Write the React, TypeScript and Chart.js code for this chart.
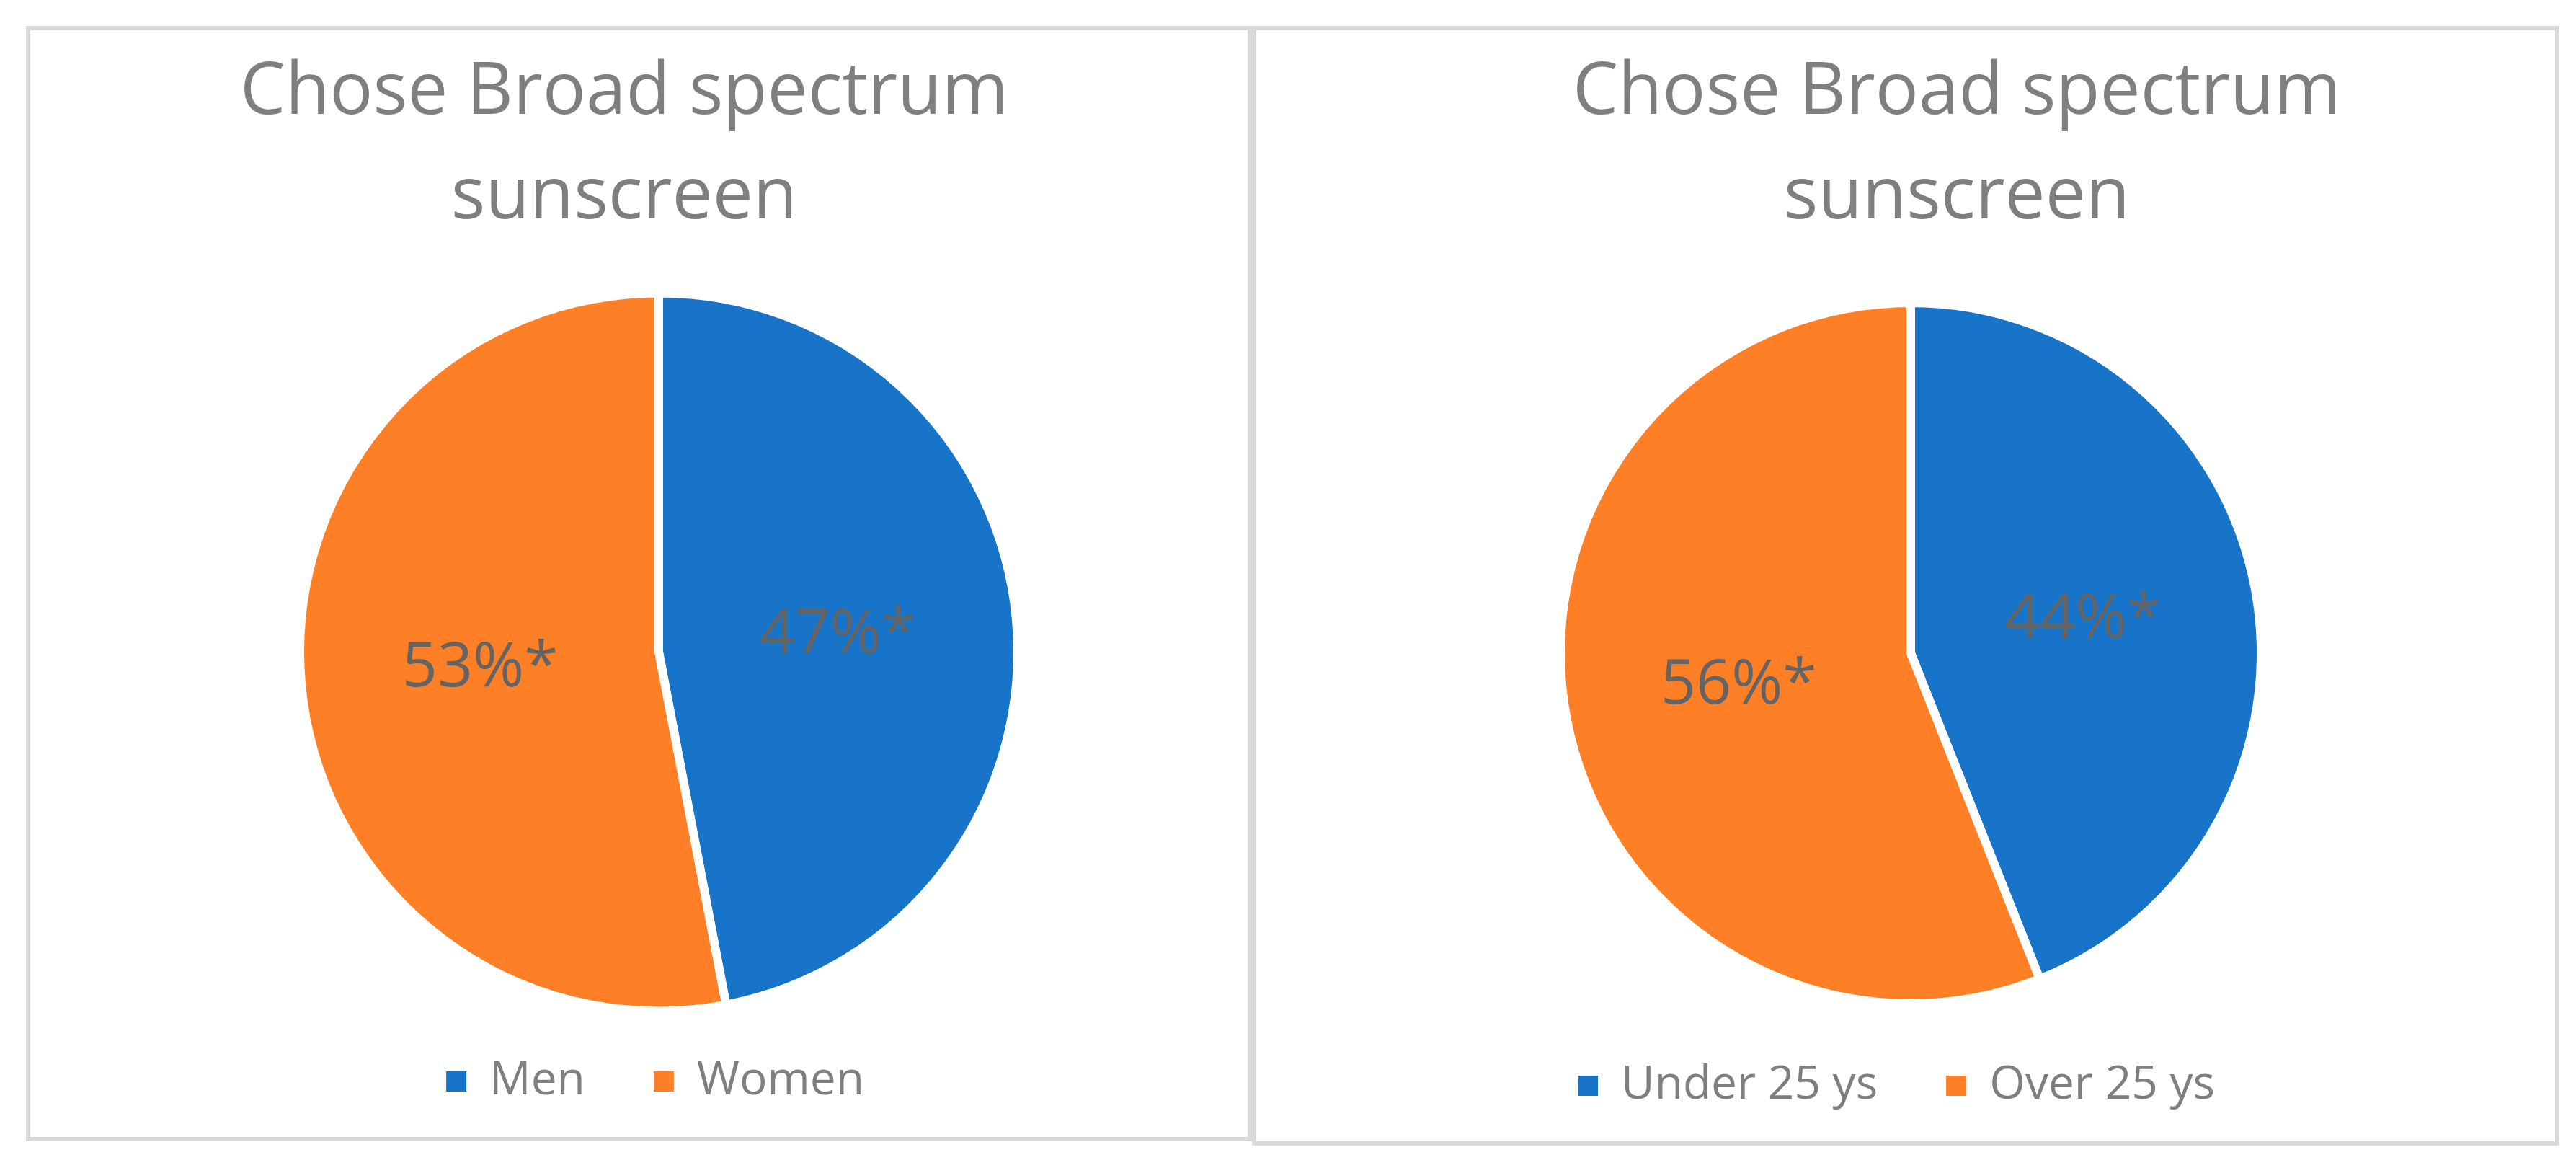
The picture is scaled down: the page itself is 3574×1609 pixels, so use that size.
import React, { useEffect, useRef } from 'react';
import { Chart, registerables } from 'chart.js';

Chart.register(...registerables);

// ---- data ----
const titleLines = ['Chose Broad spectrum', 'sunscreen'];
const genderLabels = ['Men', 'Women'];
const genderValues = [47, 53];
const ageLabels = ['Under 25 ys', 'Over 25 ys'];
const ageValues = [44, 56];
const labelSuffix = '%*';

// ---- styles ----
const sliceColors = ['#1874C8', '#FF7F27'];
const FONT = '"Open Sans", "Noto Sans", sans-serif';
const TEXT_GRAY = '#7F7F7F';
const LABEL_GRAY = '#646464';
const BORDER_GRAY = '#D9D9D9';

const panelTitlePlugin = {
  id: 'panelTitle',
  afterDraw(chart: any, _args: any, opts: any) {
    const ctx = chart.ctx;
    ctx.save();
    ctx.fillStyle = opts.color;
    ctx.font = `${opts.size}px ${FONT}`;
    ctx.textAlign = 'center';
    ctx.textBaseline = 'alphabetic';
    (opts.lines as string[]).forEach((line, i) => {
      ctx.fillText(line, opts.x, opts.y + i * opts.lineGap);
    });
    ctx.restore();
  },
};

const sliceLabelPlugin = {
  id: 'sliceLabels',
  afterDatasetsDraw(chart: any, _args: any, opts: any) {
    const ctx = chart.ctx;
    const meta = chart.getDatasetMeta(0);
    const values = chart.data.datasets[0].data as number[];
    ctx.save();
    ctx.fillStyle = opts.color;
    ctx.font = `${opts.size}px ${FONT}`;
    ctx.textAlign = 'center';
    ctx.textBaseline = 'middle';
    meta.data.forEach((arc: any, i: number) => {
      const p = arc.tooltipPosition();
      ctx.fillText(`${values[i]}${labelSuffix}`, p.x, p.y + (opts.dy || 0));
    });
    ctx.restore();
  },
};

// shifts the legend box horizontally after layout (legend is otherwise centred on the pie)
const legendShiftPlugin = {
  id: 'legendShift',
  afterLayout(chart: any, _args: any, opts: any) {
    const lg = chart.legend;
    if (lg && opts && opts.dx) {
      lg.left += opts.dx;
      lg.right += opts.dx;
    }
  },
};

type PieProps = {
  labels: string[];
  values: number[];
  left: number;
  top: number;
  width: number;
  height: number;
  radius: number;
  padding: { left: number; right: number; top: number; bottom: number };
  titleX: number;
  titleY: number;
  legendDx: number;
};

function PieCanvas(p: PieProps) {
  const ref = useRef<HTMLCanvasElement | null>(null);
  useEffect(() => {
    if (!ref.current) return;
    const chart = new Chart(ref.current, {
      type: 'pie',
      data: {
        labels: p.labels,
        datasets: [
          {
            data: p.values,
            backgroundColor: sliceColors,
            borderColor: '#FFFFFF',
            borderWidth: 12,
            borderJoinStyle: 'miter',
            clip: false,
          } as any,
        ],
      },
      options: {
        responsive: false,
        animation: false,
        devicePixelRatio: 1,
        events: [],
        radius: p.radius,
        layout: { padding: p.padding },
        plugins: {
          title: { display: false },
          tooltip: { enabled: false },
          legend: {
            display: true,
            position: 'bottom',
            labels: {
              boxWidth: 28,
              boxHeight: 28,
              padding: 95,
              color: TEXT_GRAY,
              font: { family: FONT, size: 64 },
              generateLabels: (c: any) =>
                (c.data.labels as string[]).map((text, i) => ({
                  text,
                  fillStyle: sliceColors[i],
                  strokeStyle: sliceColors[i],
                  lineWidth: 0,
                  fontColor: TEXT_GRAY,
                  hidden: false,
                  index: i,
                })),
            },
          },
          legendShift: { dx: p.legendDx },
          panelTitle: {
            lines: titleLines,
            x: p.titleX,
            y: p.titleY,
            lineGap: 145,
            size: 100,
            color: TEXT_GRAY,
          },
          sliceLabels: { color: LABEL_GRAY, size: 86, dy: 0 },
        } as any,
      } as any,
      plugins: [legendShiftPlugin, panelTitlePlugin, sliceLabelPlugin],
    });
    return () => chart.destroy();
  }, []);
  return (
    <canvas
      ref={ref}
      width={p.width}
      height={p.height}
      style={{ position: 'absolute', left: p.left, top: p.top, width: p.width, height: p.height, display: 'block' }}
    />
  );
}

export default function App() {
  return (
    <div
      style={{
        position: 'absolute',
        left: 0,
        top: 0,
        width: 3574,
        height: 1609,
        background: '#FFFFFF',
        overflow: 'hidden',
      }}
    >
      <div
        style={{
          position: 'absolute',
          left: 36,
          top: 36,
          width: 1701,
          height: 1547,
          border: `6px solid ${BORDER_GRAY}`,
          boxSizing: 'border-box',
        }}
      />
      <div
        style={{
          position: 'absolute',
          left: 1737,
          top: 36,
          width: 1814,
          height: 1553,
          border: `6px solid ${BORDER_GRAY}`,
          boxSizing: 'border-box',
        }}
      />
      <PieCanvas
        labels={genderLabels}
        values={genderValues}
        left={42}
        top={42}
        width={1689}
        height={1535}
        radius={498}
        padding={{ left: 55, right: 0, top: 394, bottom: 35 }}
        titleX={824}
        titleY={116}
        legendDx={-5}
      />
      <PieCanvas
        labels={ageLabels}
        values={ageValues}
        left={1743}
        top={42}
        width={1802}
        height={1541}
        radius={486}
        padding={{ left: 14, right: 0, top: 391, bottom: 35 }}
        titleX={972}
        titleY={116}
        legendDx={-20}
      />
    </div>
  );
}
